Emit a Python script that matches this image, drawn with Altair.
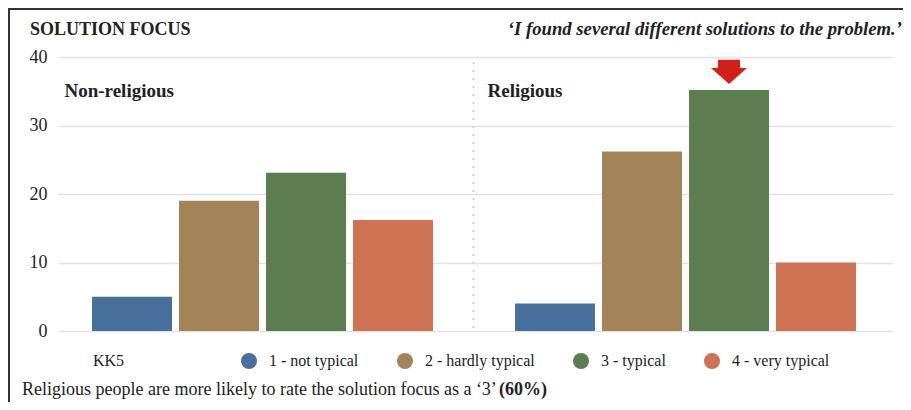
import altair as alt
import pandas as pd

# ---- data ----
groups = ["Non-religious", "Religious"]
ratings = ["1 - not typical", "2 - hardly typical", "3 - typical", "4 - very typical"]
nonreligious = [5.0, 19.0, 23.1, 16.2]
religious = [4.0, 26.2, 35.2, 10.0]
colors = ["#47709C", "#A38358", "#5B7D50", "#CD7253"]
y_ticks = [0, 10, 20, 30, 40]

title_text = "SOLUTION FOCUS"
quote_text = "\u2018I found several different solutions to the problem.\u2019"
foot_text = "Religious people are more likely to rate the solution focus as a \u20183\u2019"
foot_bold = "(60%)"
legend_title = "KK5"
highlight_group = "Religious"
highlight_rating = "3 - typical"

FONT = "Liberation Serif"
TXT = "#222222"

rows = []
for g, vals in zip(groups, [nonreligious, religious]):
    for r, v in zip(ratings, vals):
        rows.append({"group": g, "rating": r, "value": v})
df = pd.DataFrame(rows)
hl = df[(df.group == highlight_group) & (df.rating == highlight_rating)]

x_enc = alt.X("group:N", sort=groups,
              scale=alt.Scale(domain=groups, paddingInner=0.04, paddingOuter=0.007, align=0.25),
              axis=None)
xo_enc = alt.XOffset("rating:N", sort=ratings,
                     scale=alt.Scale(domain=ratings, paddingInner=0.0805, paddingOuter=0.374))
y_enc = alt.Y("value:Q", scale=alt.Scale(domain=[0, 40], nice=False),
              axis=alt.Axis(values=y_ticks, title=None, ticks=False, domain=False,
                            grid=True, gridColor="#e3e3e3", gridWidth=1.5,
                            labelFont=FONT, labelFontSize=18, labelColor=TXT,
                            labelPadding=11))

bars = alt.Chart(df).mark_bar().encode(
    x=x_enc, xOffset=xo_enc, y=y_enc,
    color=alt.Color("rating:N", sort=ratings,
                    scale=alt.Scale(domain=ratings, range=colors),
                    legend=alt.Legend(title=legend_title, orient="none",
                                      legendX=35, legendY=296,
                                      direction="horizontal",
                                      titleOrient="left", titlePadding=116,
                                      titleFont=FONT, titleFontSize=16,
                                      titleFontWeight="normal", titleColor=TXT,
                                      titleBaseline="middle",
                                      labelFont=FONT, labelFontSize=16, labelColor=TXT,
                                      labelOffset=12, columnPadding=38, padding=0,
                                      symbolType="circle", symbolSize=256,
                                      symbolStrokeWidth=0, symbolOpacity=1)),
)

arrow_path = ("M-0.611,-0.667 L0.611,-0.667 L0.611,-0.222 L1,-0.222 "
              "L0,0.667 L-1,-0.222 L-0.611,-0.222 Z")
arrow = alt.Chart(hl).mark_point(shape=arrow_path, size=1296, filled=True,
                                 color="#D4201C", opacity=1, strokeWidth=0,
                                 yOffset=-18).encode(
    x=alt.X("group:N"), xOffset=alt.XOffset("rating:N"), y=alt.Y("value:Q"))

divider = alt.Chart(pd.DataFrame({"group": [groups[1]]})).mark_rule(
    xOffset=-9, strokeDash=[2, 6], strokeWidth=2, color="#d0d0d0").encode(
    x=alt.X("group:N", bandPosition=0), y=alt.value(5), y2=alt.value(274))

panel_labels = alt.Chart(pd.DataFrame({"group": groups})).mark_text(
    align="left", baseline="alphabetic", dx=5, font=FONT, fontSize=19,
    fontWeight="bold", color=TXT).encode(
    x=alt.X("group:N", bandPosition=0), y=alt.value(40), text="group:N")


def label(text, x, y, align="left", weight="normal", style="normal", size=16):
    return alt.Chart(pd.DataFrame({"t": [text]})).mark_text(
        align=align, baseline="alphabetic", font=FONT, fontSize=size,
        fontWeight=weight, fontStyle=style, color=TXT).encode(
        x=alt.value(x), y=alt.value(y), text="t:N")


title_l = label(title_text, -28, -22, weight="bold", size=18)
quote_l = label(quote_text, 844, -22, align="right", weight="bold", style="italic", size=18.7)
foot_l = label(foot_text, -36, 338, size=18)
foot_b = label(foot_bold, 441, 338, weight="bold", size=18)

frame_df = pd.DataFrame({"k": [1]})
frame_left = alt.Chart(frame_df).mark_rule(color="#333333", strokeWidth=2).encode(
    x=alt.value(-49), y=alt.value(-48), y2=alt.value(345))
frame_top = alt.Chart(frame_df).mark_rule(color="#333333", strokeWidth=2).encode(
    x=alt.value(-50), x2=alt.value(845), y=alt.value(-48))

chart = alt.layer(bars, arrow, divider, panel_labels, title_l, quote_l,
                  foot_l, foot_b, frame_left, frame_top).properties(
    width=835, height=274,
    padding={"left": 50, "top": 49, "right": 10, "bottom": 71},
    autosize=alt.AutoSizeParams(type="none"),
).configure(font=FONT).configure_view(stroke=None)

chart.save("out.html", embed_options={"renderer": "svg", "actions": False})
